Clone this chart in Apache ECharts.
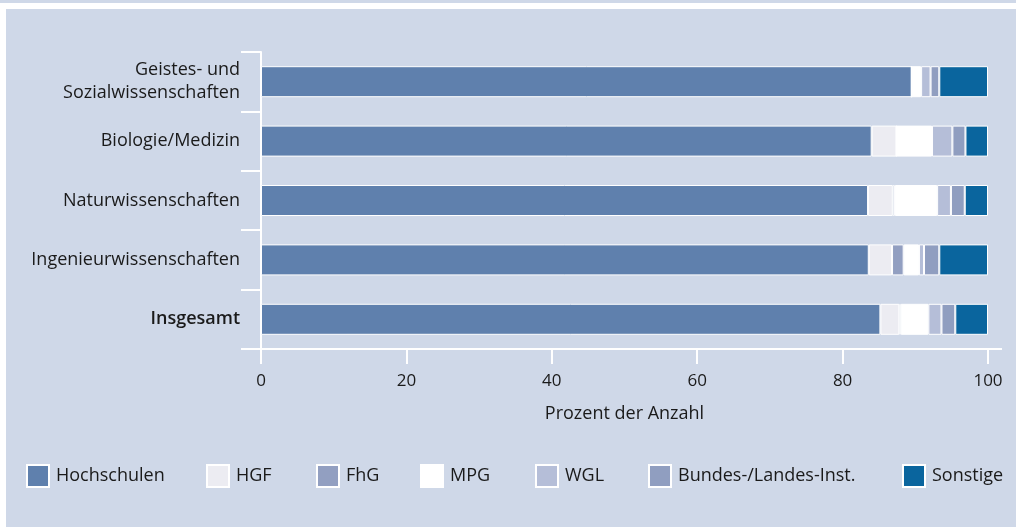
<!DOCTYPE html>
<html>
<head>
<meta charset="utf-8">
<script src="https://cdn.jsdelivr.net/npm/echarts@6/dist/echarts.min.js"></script>
<style>
  html, body { margin: 0; padding: 0; background: #fff; }
  #chart { width: 1016px; height: 527px; }
</style>
</head>
<body>
<div id="chart"></div>
<script>
const categories = ['Geistes- und\nSozialwissenschaften', 'Biologie/Medizin', 'Naturwissenschaften', 'Ingenieurwissenschaften', 'Insgesamt'];

const hochschulen = [89.5, 84.0, 83.5, 83.6, 85.2];
const hgf = [0, 3.4, 3.4, 3.2, 2.6];
const fhg = [0, 0, 0.3, 1.6, 0.2];
const mpg = [1.3, 4.9, 5.8, 2.1, 3.8];
const wgl = [1.3, 2.8, 1.9, 0.7, 1.8];
const bundesLandes = [1.2, 1.8, 1.9, 2.1, 1.9];
const sonstige = [6.7, 3.1, 3.2, 6.7, 4.5];

const xTicks = [0, 20, 40, 60, 80, 100];

const seriesDefs = [
  { name: 'Hochschulen', data: hochschulen, color: '#5f80ad', left: 26 },
  { name: 'HGF', data: hgf, color: '#ececf2', left: 206 },
  { name: 'FhG', data: fhg, color: '#929fc1', left: 316 },
  { name: 'MPG', data: mpg, color: '#ffffff', left: 420 },
  { name: 'WGL', data: wgl, color: '#b5bed8', left: 535 },
  { name: 'Bundes-/Landes-Inst.', data: bundesLandes, color: '#909ec0', left: 648 },
  { name: 'Sonstige', data: sonstige, color: '#0a659e', left: 902 },
];

const font = '"Open Sans", "Noto Sans", sans-serif';
const txt = '#1a1a1a';

const chart = echarts.init(document.getElementById('chart'), null, { renderer: 'canvas' });

chart.setOption({
  animation: false,
  textStyle: { fontFamily: font },
  graphic: [
    { type: 'rect', z: -10, silent: true, shape: { x: 0, y: 0, width: 1016, height: 3 }, style: { fill: '#cfd8e8' } },
    { type: 'rect', z: -10, silent: true, shape: { x: 6, y: 9, width: 1010, height: 518 }, style: { fill: '#cfd8e8' } },
    // axis line runs a little past the plot on the right
    { type: 'line', z: -5, silent: true, shape: { x1: 245, y1: 349, x2: 1002, y2: 349 }, style: { stroke: '#fff', lineWidth: 2 } },
  ],
  grid: { left: 261, right: 28, top: 52, height: 297 },
  legend: seriesDefs.map((s) => ({
    data: [s.name],
    left: s.left,
    top: 464,
    padding: 0,
    icon: 'rect',
    itemWidth: 22,
    itemHeight: 22,
    itemGap: 0,
    textStyle: { fontSize: 18, color: txt, fontFamily: font, padding: [0, 0, 0, 2] },
    selectedMode: false,
  })),
  xAxis: {
    type: 'value',
    min: 0,
    max: 100,
    interval: 20,
    name: 'Prozent der Anzahl',
    nameLocation: 'middle',
    nameGap: 56,
    nameTextStyle: { fontSize: 18, color: txt },
    axisLine: { show: true, lineStyle: { color: '#fff', width: 2 } },
    axisTick: { show: true, length: 15, lineStyle: { color: '#fff', width: 2 } },
    axisLabel: { margin: 24, fontSize: 17, color: txt, formatter: (v) => (xTicks.includes(v) ? String(v) : '') },
    splitLine: { show: false },
  },
  yAxis: {
    type: 'category',
    data: categories,
    inverse: true,
    axisLine: { show: true, lineStyle: { color: '#fff', width: 2 } },
    axisTick: { show: true, length: 20, lineStyle: { color: '#fff', width: 2 } },
    axisLabel: {
      margin: 21,
      fontSize: 18,
      lineHeight: 23,
      color: txt,
      align: 'right',
      formatter: (v) => (v === 'Insgesamt' ? '{b|' + v + '}' : v),
      rich: { b: { fontSize: 18, fontWeight: 600, color: txt, fontFamily: font } },
    },
  },
  series: seriesDefs.map((s) => ({
    name: s.name,
    type: 'bar',
    stack: 'total',
    barWidth: 31,
    data: s.data,
    itemStyle: { color: s.color, borderColor: '#fff', borderWidth: 1 },
  })),
});
</script>
</body>
</html>
